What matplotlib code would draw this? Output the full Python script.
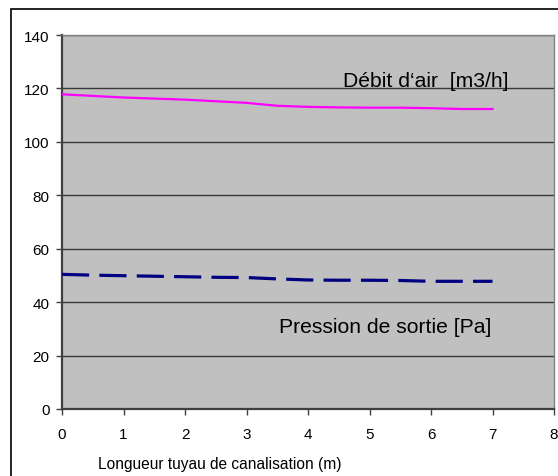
import matplotlib
matplotlib.use('Agg')
import matplotlib.pyplot as plt
from matplotlib.patches import Rectangle

plt.rcParams['font.family'] = ['Liberation Sans', 'DejaVu Sans']

# longueur du tuyau (m)
longueur = [0, 0.5, 1, 1.5, 2, 2.5, 3, 3.5, 4, 4.5, 5, 5.5, 6, 6.5, 7]
# débit d'air [m3/h]
debit = [117.8, 117.2, 116.6, 116.2, 115.8, 115.2, 114.6, 113.5, 113.1,
         112.9, 112.8, 112.8, 112.6, 112.3, 112.3]
# pression de sortie [Pa]
pression = [50.4, 50.1, 49.9, 49.7, 49.5, 49.3, 49.2, 48.7, 48.3,
            48.2, 48.2, 48.1, 47.8, 47.8, 47.8]

x_ticks = list(range(0, 9))
y_ticks = list(range(0, 141, 20))

fig = plt.figure(figsize=(5.58, 4.77), dpi=100)
ax = fig.add_axes([62/558, 1 - 410/477, (554-62)/558, (410-36)/477])
ax.set_facecolor('#c0c0c0')

# cadre extérieur
fig.patches.append(Rectangle((11/558, -0.2), 1.0, 1.2 - 10/477 + 0.0,
                             transform=fig.transFigure, fill=False,
                             edgecolor='black', linewidth=1.2, clip_on=False))

ax.plot(longueur, debit, color='#ff00ff', linewidth=1.6, zorder=3)
ax.plot(longueur, pression, color='#000080', linewidth=2.3,
        dashes=(8.5, 3.2), zorder=3)

ax.set_xlim(0, 8)
ax.set_ylim(0, 140)
ax.set_xticks(x_ticks)
ax.set_yticks(y_ticks)
ax.grid(axis='y', color='#383838', linewidth=1.0)
ax.set_axisbelow(True)

for side in ['left', 'bottom']:
    ax.spines[side].set_color('#404040')
    ax.spines[side].set_linewidth(1.6)
for side in ['top', 'right']:
    ax.spines[side].set_color('#808080')
    ax.spines[side].set_linewidth(1.0)

ax.tick_params(axis='y', direction='out', length=4, width=1, color='#404040',
               labelsize=11, pad=5)
ax.tick_params(axis='x', direction='out', length=4, width=1, color='#404040',
               labelsize=11, pad=9)

ax.text(4.574, 121.0, 'Débit d‘air  [m3/h]', fontsize=15.2, va='baseline',
        ha='left', color='black')
ax.text(3.528, 28.7, 'Pression de sortie [Pa]', fontsize=15.2, va='baseline',
        ha='left', color='black')

fig.text(98/558, 1 - 469/477, 'Longueur tuyau de canalisation (m)',
         fontsize=11.2, va='baseline', ha='left')

fig.savefig('out.png', dpi=100)
